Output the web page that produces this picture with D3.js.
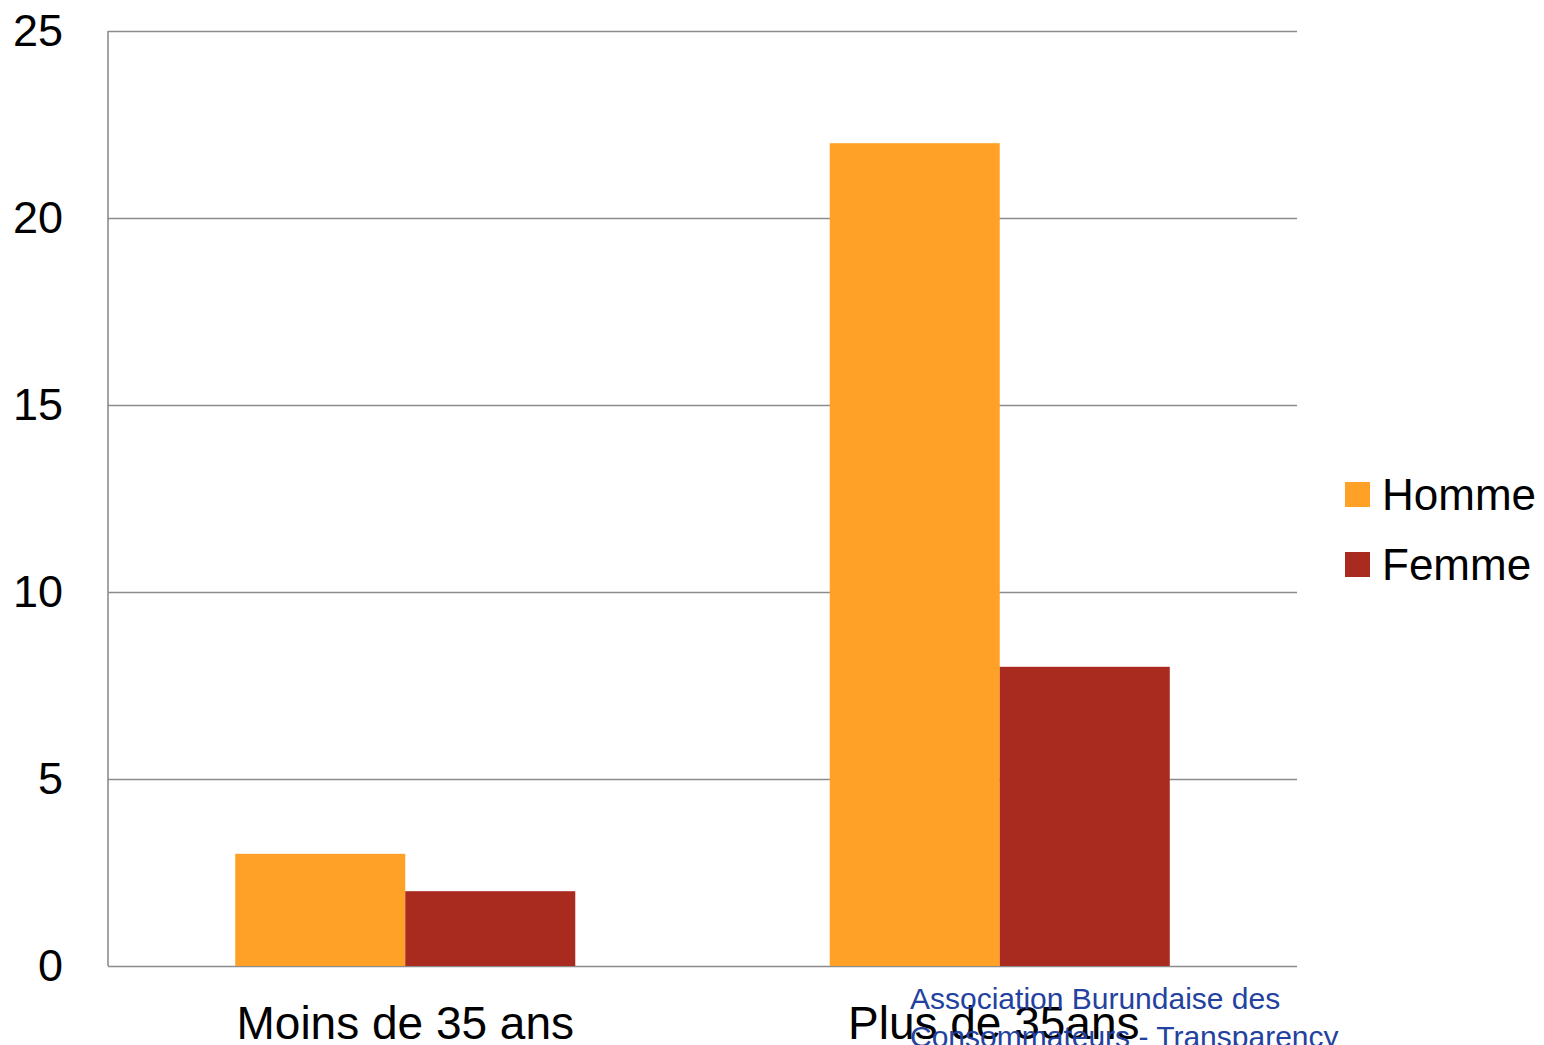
<!DOCTYPE html>
<html><head><meta charset="utf-8">
<script src="https://cdn.jsdelivr.net/npm/d3@7"></script>
<style>body{margin:0;background:#fff}svg{display:block}</style>
</head><body>
<svg id="c" width="1544" height="1045"></svg>
<script>
const categories = ["Moins de 35 ans", "Plus de 35ans"];
const seriesNames = ["Homme", "Femme"];
const homme = [3, 22];
const femme = [2, 8];
const yTicks = [0, 5, 10, 15, 20, 25];
const colors = ["#FFA126", "#A92A1F"];
const footer = ["Association Burundaise des", "Consommateurs - Transparency"];

const svg = d3.select("#c");
const L = 108, R = 1297, T = 31, B = 966;
const font = "'Liberation Sans', Arial, sans-serif";

const x0 = d3.scaleBand().domain(categories).range([L, R]).paddingInner(0.428).paddingOuter(0.214);
const x1 = d3.scaleBand().domain(seriesNames).range([0, x0.bandwidth()]);
const y = d3.scaleLinear().domain([0, 25]).range([B, T]);
const color = d3.scaleOrdinal().domain(seriesNames).range(colors);

// gridlines
const grid = svg.append("g").attr("transform", `translate(${L},0)`)
  .call(d3.axisLeft(y).tickValues(yTicks).tickSize(-(R - L)).tickFormat(""));
grid.select(".domain").remove();
grid.selectAll(".tick line").attr("stroke", "#8c8c8c").attr("stroke-width", 1.6);

// left axis line
svg.append("line").attr("x1", L).attr("x2", L).attr("y1", y(25)).attr("y2", y(0))
  .attr("stroke", "#8c8c8c").attr("stroke-width", 1.6);

// y tick labels
const yax = svg.append("g").attr("transform", `translate(${L},0)`)
  .call(d3.axisLeft(y).tickValues(yTicks).tickSize(0).tickPadding(45));
yax.select(".domain").remove();
yax.selectAll("text").attr("font-family", font).attr("font-size", 45).attr("fill", "#000");

// bars
const data = categories.map((c, i) => ({cat: c, vals: [
  {name: "Homme", v: homme[i]}, {name: "Femme", v: femme[i]}]}));
svg.append("g").selectAll("g").data(data).join("g")
  .attr("transform", d => `translate(${x0(d.cat)},0)`)
  .selectAll("rect").data(d => d.vals).join("rect")
  .attr("x", d => x1(d.name)).attr("width", x1.bandwidth())
  .attr("y", d => y(d.v)).attr("height", d => y(0) - y(d.v))
  .attr("fill", d => color(d.name));

// x labels
const xax = svg.append("g").attr("transform", `translate(0,${B})`)
  .call(d3.axisBottom(x0).tickSize(0).tickPadding(40));
xax.select(".domain").remove();
xax.selectAll("text").attr("font-family", font).attr("font-size", 46).attr("fill", "#000");
xax.selectAll(".tick").filter((d, i) => i === 1).select("text").attr("dx", -6);

// footer text
svg.append("g").selectAll("text").data(footer).join("text")
  .attr("x", 910).attr("y", (d, i) => 1009 + i * 38)
  .attr("font-family", font).attr("font-size", 30).attr("fill", "#2342A0")
  .text(d => d);

// legend
const leg = svg.append("g").selectAll("g").data(seriesNames).join("g")
  .attr("transform", (d, i) => `translate(1345,${482 + i * 70})`);
leg.append("rect").attr("width", 25).attr("height", 25).attr("fill", d => color(d));
leg.append("text").attr("x", 37).attr("y", 28).attr("font-family", font)
  .attr("font-size", 44).attr("fill", "#000").text(d => d);
</script>
</body></html>
